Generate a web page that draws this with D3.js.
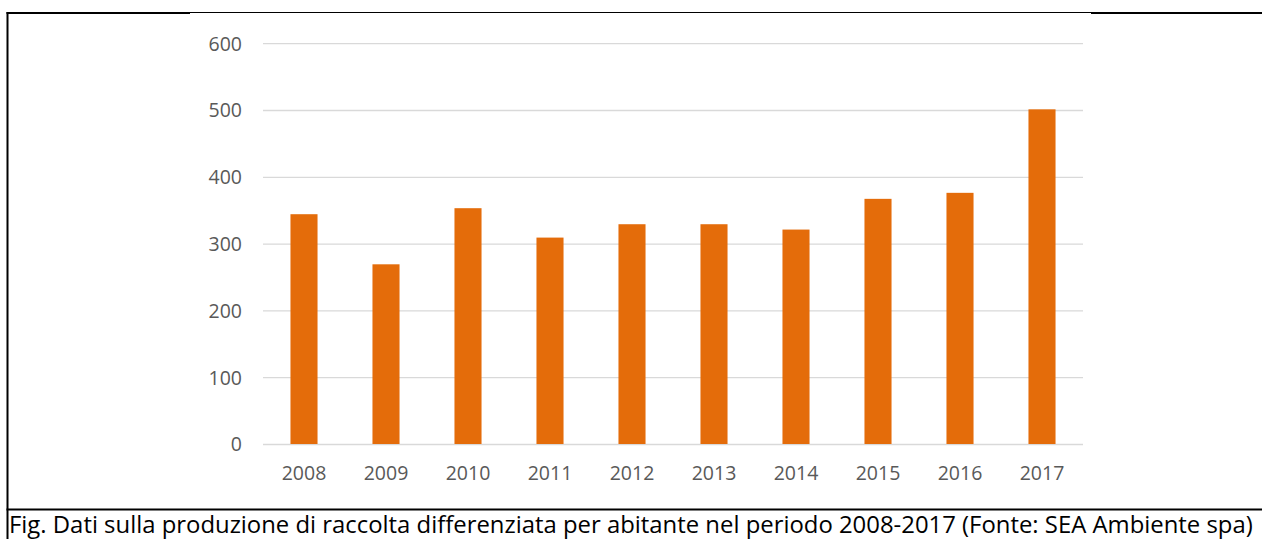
<!DOCTYPE html>
<html>
<head>
<meta charset="utf-8">
<script src="https://cdn.jsdelivr.net/npm/d3@7"></script>
<style>
  html, body { margin: 0; padding: 0; background: #fff; }
  svg { display: block; }
</style>
</head>
<body>
<svg id="chart" width="1262" height="539"></svg>
<script>
// Raccolta differenziata per abitante, 2008-2017
const years = ["2008", "2009", "2010", "2011", "2012", "2013", "2014", "2015", "2016", "2017"];
const values = [344, 269, 353, 309, 329, 329, 321, 367, 376, 501];
const yTicks = [0, 100, 200, 300, 400, 500, 600];
const caption = "Fig. Dati sulla produzione di raccolta differenziata per abitante nel periodo 2008-2017 (Fonte: SEA Ambiente spa)";

const svg = d3.select("#chart");
const font = "'Open Sans', 'Noto Sans', sans-serif";
const tickSize = "19.5px";

const x = d3.scaleBand().domain(years).range([263, 1083]).paddingInner(0.67).paddingOuter(0.335);
const y = d3.scaleLinear().domain([0, 600]).range([444, 43.2]);

// frame lines
const frame = svg.append("g").attr("stroke", "#000").attr("fill", "none");
frame.append("line").attr("x1", 7.5).attr("x2", 7.5).attr("y1", 12).attr("y2", 539).attr("stroke-width", 2);
frame.append("line").attr("x1", 6.5).attr("x2", 190).attr("y1", 13).attr("y2", 13).attr("stroke-width", 2);
frame.append("line").attr("x1", 190).attr("x2", 1091).attr("y1", 12.5).attr("y2", 12.5).attr("stroke-width", 1);
frame.append("line").attr("x1", 1091).attr("x2", 1262).attr("y1", 13).attr("y2", 13).attr("stroke-width", 2);
frame.append("line").attr("x1", 6.5).attr("x2", 1262).attr("y1", 509.5).attr("y2", 509.5).attr("stroke-width", 2);

// gridlines + y labels
const yAxis = d3.axisLeft(y).tickValues(yTicks).tickSize(-(1083 - 263)).tickPadding(21);
const gy = svg.append("g").attr("transform", "translate(263,0)").call(yAxis);
gy.select(".domain").remove();
gy.selectAll(".tick line").attr("stroke", "#d9d9d9").attr("stroke-width", 1.3);
gy.selectAll(".tick text")
  .attr("fill", "#595959")
  .style("font-family", font)
  .style("font-size", tickSize)
  .attr("dy", "0.35em");

// bars
svg.append("g").selectAll("rect")
  .data(values)
  .join("rect")
  .attr("x", (d, i) => x(years[i]))
  .attr("width", x.bandwidth())
  .attr("y", d => y(d))
  .attr("height", d => y(0) - y(d))
  .attr("fill", "#e46c0a");

// x labels
const xAxis = d3.axisBottom(x).tickSize(0).tickPadding(0);
const gx = svg.append("g").attr("transform", "translate(0,444)").call(xAxis);
gx.select(".domain").remove();
gx.selectAll(".tick text")
  .attr("fill", "#595959")
  .attr("y", 36)
  .attr("dy", 0)
  .style("font-family", font)
  .style("font-size", tickSize);

// caption, sized to span the frame width
const cap = svg.append("text")
  .attr("x", 9)
  .attr("y", 533)
  .attr("fill", "#000")
  .style("font-family", font)
  .style("font-size", "20px")
  .text(caption);
const w = cap.node().getComputedTextLength();
cap.style("font-size", (20 * 1244 / w).toFixed(2) + "px");
</script>
</body>
</html>
